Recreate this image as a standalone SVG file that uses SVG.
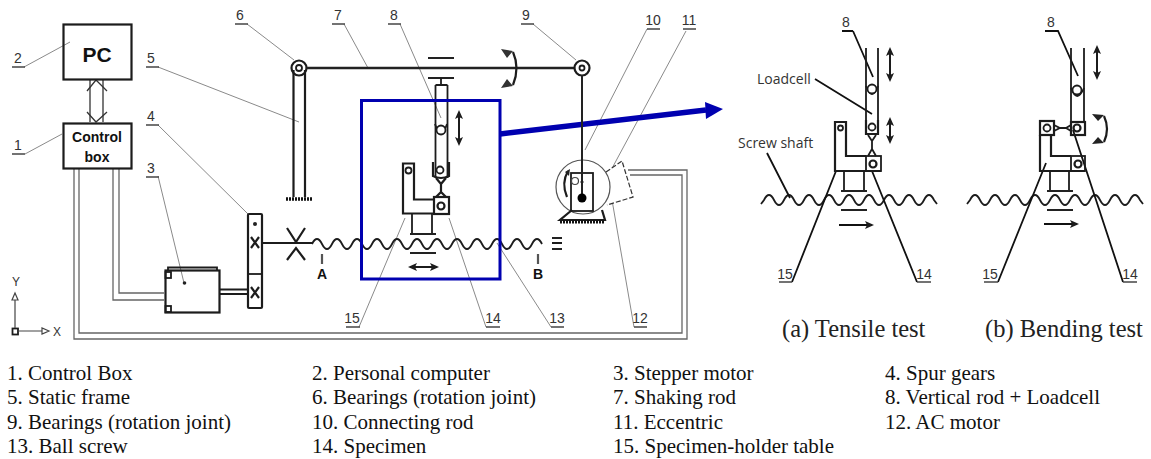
<svg xmlns="http://www.w3.org/2000/svg" width="1151" height="459" viewBox="0 0 1151 459">
<style>
text{font-family:"Liberation Sans",Arial,sans-serif;fill:#333}
.num{font-size:14px;text-anchor:middle}
.bold{font-weight:bold;fill:#111;text-anchor:middle}
.leg{font-family:"Liberation Serif","Times New Roman",serif;font-size:21px;fill:#111}
.cap{font-family:"Liberation Serif","Times New Roman",serif;font-size:24.500px;fill:#222}
.note{font-family:"Open Sans",sans-serif;font-size:14px;fill:#333}
.s{fill:none;stroke:#1c1c1c;stroke-width:1.8}
.w{fill:#fff;stroke:#1c1c1c;stroke-width:1.8}
.t{fill:none;stroke:#1c1c1c;stroke-width:2.2}
.u{fill:none;stroke:#444;stroke-width:1.5}
.ld{fill:none;stroke:#8a8a8a;stroke-width:1}
.ldk{fill:none;stroke:#111;stroke-width:1.8}
.wire{fill:none;stroke:#666;stroke-width:1.3}
.ar{fill:none;stroke:#1c1c1c;stroke-width:2;marker-start:url(#hs);marker-end:url(#he)}
.arr{fill:none;stroke:#111;stroke-width:2;marker-end:url(#he)}
</style>
<defs>
<marker id="he" markerWidth="9" markerHeight="8" refX="7" refY="4" orient="auto" markerUnits="userSpaceOnUse"><path d="M0 0L9 4L0 8L2 4z" fill="#1c1c1c"/></marker>
<marker id="hs" markerWidth="9" markerHeight="8" refX="2" refY="4" orient="auto" markerUnits="userSpaceOnUse"><path d="M9 0L0 4L9 8L7 4z" fill="#1c1c1c"/></marker>
</defs>
<rect width="1151" height="459" fill="#fff"/>

<g id="connectors">
<path class="wire" d="M74 168V339H687V170H628M79 168V333H682V175H630"/>
<path class="wire" d="M113 168V300H164M119 168V293H164"/>
<path d="M90 80V122M103 80V122" class="wire" style="stroke:#333"/>
<path d="M87 91L96 80L107 91M87 112L96 122L107 112" class="wire" style="stroke:#333"/>
<path class="t" d="M219 289.500H248M219 294H248" style="stroke-width:1.800"/>
<path class="t" d="M262 243H312" style="stroke-width:1.800"/>
<path class="ld" d="M24 67L70 42M25 154L62 134M158 67L299 122M158 125L248 214M158 176L184 283M247 24L294 60M344 24L368 68M400 24L441 118M533 24L576 60M647 29L585 150M686 31L596 198M634 327L612 200M551 327L497 243M486 327L449 218M359 327L405 218"/>
<path d="M500 134L706 110" fill="none" stroke="#0000b0" stroke-width="5.500"/>
<path d="M723 109L705 102L706 119z" fill="#0000b0"/>
</g>

<g id="n2-pc"><rect x="63.500" y="24.500" width="68" height="55" class="t" fill="#fff"/><text x="97" y="62" class="bold" font-size="21">PC</text></g>
<g id="n1-control-box"><rect x="63.500" y="123.500" width="68" height="45" class="t"/><text x="97" y="142" class="bold" font-size="14">Control</text><text x="97" y="162" class="bold" font-size="14">box</text></g>

<g id="n3-motor">
<path class="s" d="M168 270V267.500H217V270"/>
<rect x="165.500" y="270.500" width="54" height="42" class="t" fill="#fff"/>
<rect x="165.500" y="272" width="5.500" height="6" class="s"/><rect x="165.500" y="306" width="5.500" height="6" class="s"/>
<circle cx="184.500" cy="283" r="1.800" fill="#222"/>
</g>
<g id="n4-gears">
<rect x="248" y="214" width="14" height="94" rx="1" class="t" fill="#fff"/><path class="s" d="M248 274H262"/>
<circle cx="255" cy="224" r="2" fill="#222"/>
<path class="t" d="M251 237L259 248M259 237L251 248M251 287L259 298M259 287L251 298"/>
<path class="t" d="M287 228L296 242L305 228M287 260L296 248L305 260"/>
</g>
<g id="n5-frame">
<path class="t" d="M293.500 70V197M305 70V197"/>
<path d="M286 199H312" stroke="#111" stroke-width="3.500" stroke-dasharray="2 1"/>
</g>
<g id="n6-bearing"><circle cx="299" cy="68" r="7.500" class="t" fill="#fff"/><circle cx="299" cy="68" r="3" class="s"/></g>
<g id="n7-shaking-rod">
<path d="M306 68H574" stroke="#222" stroke-width="2.500"/>
<path d="M428 58H454M428 78H454" stroke="#222" stroke-width="2"/>
<path class="t" d="M513 52Q520 68 513 85"/>
<path d="M501 49L513 51L507 58zM501 88L513 86L507 79z" fill="#333"/>
</g>
<g id="n9-bearing"><circle cx="582" cy="68" r="7.500" class="t" fill="#fff"/><circle cx="582" cy="68" r="2.500" class="s"/></g>
<g id="n12-ac-motor">
<path d="M606 172L622 161L633 197L607 205" fill="#fff" stroke="#333" stroke-width="1.200" stroke-dasharray="5 2"/>
</g>
<g id="n11-eccentric">
<circle cx="583" cy="187" r="27" fill="#fff" stroke="#555" stroke-width="1.200"/>
<rect x="571" y="173" width="22" height="38" class="s" fill="#fff"/>
<path class="t" d="M568 171Q561 183 567 197" stroke-width="2"/>
<path d="M565 172L570 169L569 176z" fill="#222"/>
<circle cx="575" cy="181" r="3.500" fill="#fff" stroke="#444" stroke-width="1.200"/>
<path d="M580 182H584" stroke="#444"/>
<path d="M572 210L560 220H605L602 210" class="t" fill="#fff"/>
<path d="M560 222H604" stroke="#111" stroke-width="3" stroke-dasharray="2 1"/>
</g>
<g id="n10-connecting-rod"><path d="M582 75V198" stroke="#222" stroke-width="2"/><circle cx="582" cy="198" r="4.500" fill="#000"/></g>

<g id="n13-ball-screw">
<path class="s" d="M312 244q5 -10 10 0t10 0t10 0t10 0t10 0t10 0t10 0t10 0t10 0t10 0t10 0t10 0t10 0t10 0t10 0t10 0t10 0t10 0t10 0t10 0t10 0t10 0t10 0M552 243H562"/>
<path d="M552 238H562M552 249H562" stroke="#222" stroke-width="2"/>
<path class="t" d="M322 254V264M538 254V264" stroke-width="1.500" style="stroke:#555"/>
<text x="322" y="279" class="bold" font-size="14">A</text><text x="538" y="279" class="bold" font-size="14">B</text>
</g>
<g id="n8-vertical-rod">
<path class="s" d="M441 78V85M435.500 85H447.500M435.500 85V178M447.500 85V178"/>
<path class="s" d="M435 124Q441 142 447 124"/>
<circle cx="441" cy="130" r="4.500" class="w"/>
<path class="t" d="M433 162V176Q441 180 449 176V162"/>
<circle cx="440" cy="170" r="3.500" class="s"/>
<path class="ar" d="M459 112V144"/>
</g>
<g id="n14-specimen">
<path class="t" d="M436 178L441 184V192L436 197M446 178L441 184V192L446 197" stroke-width="1.500"/>
<rect x="434" y="197" width="15" height="17" class="t"/><circle cx="441" cy="206" r="3.500" class="t" stroke-width="1.500"/>
</g>
<g id="n15-table">
<path class="t" d="M434 199.500H414V163.500H403V213.500H434"/>
<circle cx="408.500" cy="170.500" r="3" class="s"/>
<path class="s" d="M412 214V233M432 214V233"/>
<path d="M410 234H436M410 253H436" stroke="#222" stroke-width="2"/>
<path class="ar" d="M410 267H437"/>
</g>
<g id="blue-frame"><rect x="361.500" y="100.500" width="138.500" height="178.500" fill="none" stroke="#0000b0" stroke-width="3"/></g>

<g id="labels">
<text x="18" y="63" class="num">2</text><path class="u" d="M12 67H25"/>
<text x="18" y="150" class="num">1</text><path class="u" d="M12 154H25"/>
<text x="151" y="63" class="num">5</text><path class="u" d="M146 67H159"/>
<text x="151" y="121" class="num">4</text><path class="u" d="M146 125H159"/>
<text x="151" y="173" class="num">3</text><path class="u" d="M146 177H159"/>
<text x="240" y="20" class="num">6</text><path class="u" d="M235 24H248"/>
<text x="338" y="20" class="num">7</text><path class="u" d="M332 24H345"/>
<text x="394" y="20" class="num">8</text><path class="u" d="M388 24H401"/>
<text x="526" y="20" class="num">9</text><path class="u" d="M521 24H534"/>
<text x="653" y="25" class="num">10</text><path class="u" d="M647 29H660"/>
<text x="689" y="25" class="num">11</text><path class="u" d="M683 29H696"/>
<text x="640" y="323" class="num">12</text><path class="u" d="M634 327H647"/>
<text x="557" y="323" class="num">13</text><path class="u" d="M551 327H564"/>
<text x="493" y="323" class="num">14</text><path class="u" d="M486 327H500"/>
<text x="352" y="323" class="num">15</text><path class="u" d="M346 327H360"/>
</g>

<g id="axes">
<rect x="12.500" y="328.500" width="5.500" height="6" class="s"/>
<path class="s" d="M15 328V299M18 331H42" style="stroke:#444;stroke-width:1.200"/>
<path d="M15 293L12 300H18zM49 331L42 328V334z" fill="#fff" stroke="#444" stroke-width="1.200"/>
<text x="16" y="286" font-size="12" text-anchor="middle">Y</text><text x="57" y="336" font-size="12" text-anchor="middle">X</text>
</g>

<g id="tensile-test">
<path class="s" d="M761 204L764 200q5 -10 10 0t10 0t10 0t10 0t10 0t10 0t10 0t10 0t10 0t10 0t10 0t10 0t10 0t10 0t10 0t10 0t10 0L937 204"/>
<path class="ldk" d="M792 282L836 171M917 282L872 171M767 153L790 198M853 31H842M853 31L873 77M815 79L872 114"/>
<path class="s" d="M866 48V135M878 48V135"/>
<path class="s" d="M866 86Q872 102 878 86"/>
<circle cx="872" cy="89" r="4.500" class="w"/>
<path class="t" d="M866 120V134H878V120" stroke-width="1.800"/>
<circle cx="872" cy="127" r="3.500" class="s"/>
<path class="s" d="M868 135L872 141V149L868 156M876 135L872 141V149L876 156"/>
<path class="t" d="M866 156H846V122H835V171H881" stroke-width="1.800"/>
<rect x="866" y="156" width="15" height="15" class="s"/><circle cx="873" cy="164" r="3.500" class="t"/>
<circle cx="840.500" cy="128" r="2.500" class="s"/>
<path class="s" d="M844 171V190M864 171V190"/>
<path d="M841 191H867M841 210H867" stroke="#222" stroke-width="2"/>
<path class="ar" d="M890 49V80"/><path class="ar" d="M890 119V142"/>
<path class="arr" d="M839 225H872"/>
<text x="757" y="84" class="note">Loadcell</text>
<text x="738" y="148" class="note">Screw shaft</text>
<text x="846" y="27" class="num">8</text>
<text x="785" y="279" class="num">15</text><path class="u" d="M779 282H792"/>
<text x="924" y="279" class="num">14</text><path class="u" d="M917 282H931"/>
<text x="782" y="337" class="cap">(a) Tensile test</text>
</g>

<g id="bending-test">
<path class="s" d="M967 204L970 200q5 -10 10 0t10 0t10 0t10 0t10 0t10 0t10 0t10 0t10 0t10 0t10 0t10 0t10 0t10 0t10 0t10 0t10 0L1143 204"/>
<path class="ldk" d="M998 282L1046 163M1123 282L1073 130M1045 31H1058L1078 76"/>
<path class="s" d="M1071 48V122M1084 48V122"/>
<path class="s" d="M1071 88Q1077 104 1084 88"/>
<circle cx="1077" cy="90" r="4.500" class="w"/>
<rect x="1071" y="122" width="14" height="13" class="t" fill="none" stroke-width="1.800"/><circle cx="1077" cy="128" r="3.500" class="t"/>
<rect x="1040" y="121" width="14" height="14" class="t" stroke-width="1.800"/><circle cx="1047" cy="128" r="3.500" class="s"/>
<path class="s" d="M1054 125L1060 128H1066L1071 125M1054 131L1060 128H1066L1071 131"/>
<path class="t" d="M1040 135V171H1085M1051 135V156H1071" stroke-width="1.800"/>
<rect x="1071" y="156" width="14" height="15" class="s"/><circle cx="1078" cy="164" r="3.500" class="t"/>
<path class="s" d="M1050 171V190M1069 171V190"/>
<path d="M1047 191H1073M1047 210H1073" stroke="#222" stroke-width="2"/>
<path class="ar" d="M1097 47V78"/>
<path class="t" d="M1104 116Q1110 129 1104 142"/>
<path d="M1092 114L1104 115L1098 121zM1092 144L1104 143L1098 137z" fill="#222"/>
<path class="arr" d="M1044 224H1077"/>
<text x="1051" y="27" class="num">8</text>
<text x="990" y="279" class="num">15</text><path class="u" d="M984 282H998"/>
<text x="1130" y="279" class="num">14</text><path class="u" d="M1123 282H1137"/>
<text x="985" y="337" class="cap">(b) Bending test</text>
</g>

<g id="legend">
<text class="leg" x="7" y="380">1. Control Box</text><text class="leg" x="312" y="380">2. Personal computer</text><text class="leg" x="613" y="380">3. Stepper motor</text><text class="leg" x="885" y="380">4. Spur gears</text>
<text class="leg" x="7" y="404">5. Static frame</text><text class="leg" x="312" y="404">6. Bearings (rotation joint)</text><text class="leg" x="613" y="404">7. Shaking rod</text><text class="leg" x="885" y="404">8. Vertical rod + Loadcell</text>
<text class="leg" x="7" y="429">9. Bearings (rotation joint)</text><text class="leg" x="312" y="429">10. Connecting rod</text><text class="leg" x="613" y="429">11. Eccentric</text><text class="leg" x="885" y="429">12. AC motor</text>
<text class="leg" x="7" y="453">13. Ball screw</text><text class="leg" x="312" y="453">14. Specimen</text><text class="leg" x="613" y="453">15. Specimen-holder table</text>
</g>
</svg>
